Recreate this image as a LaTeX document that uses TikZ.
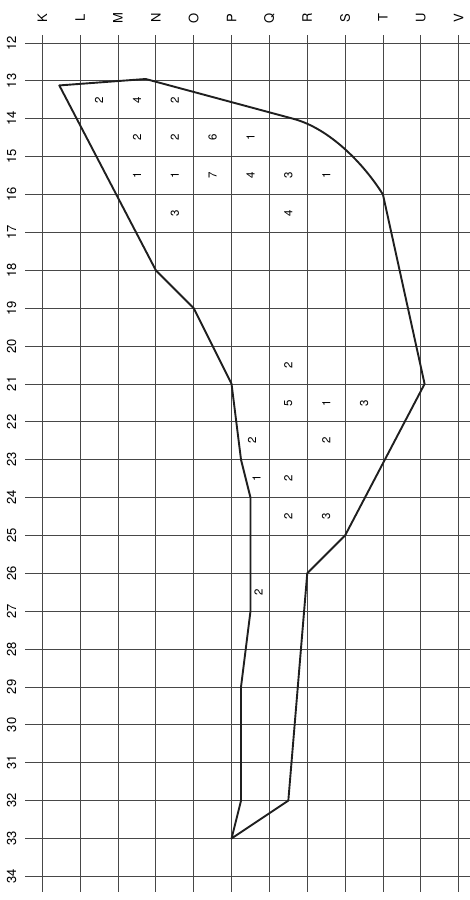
\documentclass[tikz,border=0pt]{standalone}
\usepackage{fontspec}
\setmainfont{TeX Gyre Heros}
\begin{document}
\begin{tikzpicture}[x=37.85pt,y=-37.88pt,
  gridline/.style={draw=black!72,line width=0.8pt},
  outline/.style={draw=black!88,line width=1.9pt,line join=round},
  lbl/.style={rotate=90,inner sep=0pt,font=\fontsize{13}{14}\selectfont},
  num/.style={rotate=90,inner sep=0pt,font=\fontsize{11.5}{12}\selectfont}]
\useasboundingbox (-42.3pt,43pt) rectangle (427.7pt,-857pt);
% grid
\foreach \c in {0,...,11} \draw[gridline] (\c,-0.21) -- (\c,22.41);
\foreach \r in {0,...,22} \draw[gridline] (-0.457,\r) -- (11.3,\r);
% column labels
\foreach \l [count=\i from 0] in {K,L,M,N,O,P,Q,R,S,T,U,V}
  \node[lbl] (col\l) at (\i,-0.66) {\l};
% row labels
\foreach \n [count=\i from 0] in {12,...,34}
  \node[lbl] (row\n) at (-0.81,\i) {\n};
% outline
\draw[outline] (2.73,0.95) -- (0.45,1.12) -- (3,6) -- (4,7) -- (5,9) -- (5.25,11)
  -- (5.5,12) -- (5.5,15) -- (5.25,17) -- (5.25,20) -- (5,21) -- (6.5,20)
  -- (7,14) -- (8,13) -- (10.1,9) -- (9,4) .. controls (8.5,3.2) and (7.6,2.26) .. (6.63,2) -- cycle;
% cell counts
\foreach \x/\y/\v [count=\k] in {
  1.5/1.5/2, 2.5/1.5/4, 3.5/1.5/2,
  2.5/2.5/2, 3.5/2.5/2, 4.5/2.5/6, 5.5/2.5/1,
  2.5/3.5/1, 3.5/3.5/1, 4.5/3.5/7, 5.5/3.5/4, 6.5/3.5/3, 7.5/3.5/1,
  3.5/4.5/3, 6.5/4.5/4,
  6.5/8.5/2,
  6.5/9.5/5, 7.5/9.5/1, 8.5/9.5/3,
  5.54/10.5/2, 7.5/10.5/2,
  5.66/11.5/1, 6.5/11.5/2,
  6.5/12.5/2, 7.5/12.5/3,
  5.71/14.5/2}
  \node[num] (n\k) at (\x,\y) {\v};
\end{tikzpicture}
\end{document}
